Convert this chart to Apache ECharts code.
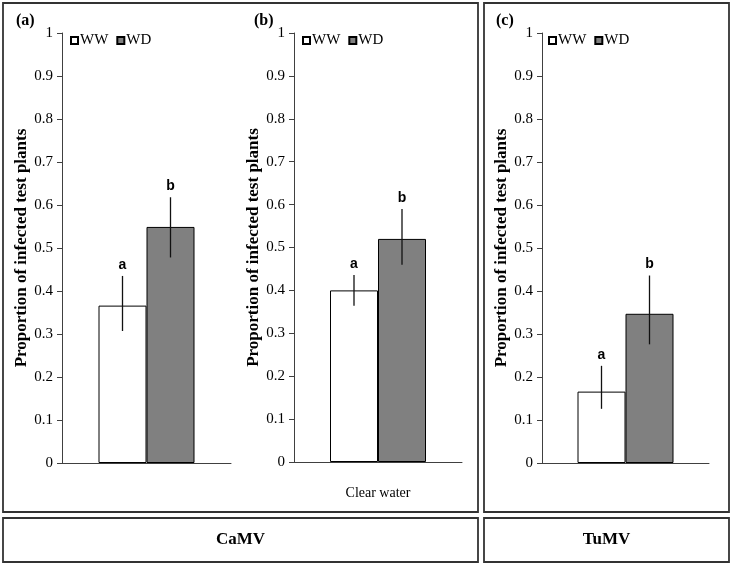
<!DOCTYPE html>
<html>
<head>
<meta charset="utf-8">
<script src="https://cdn.jsdelivr.net/npm/echarts@6/dist/echarts.min.js"></script>
<style>html,body{margin:0;padding:0;background:#fff}#c{width:733px;height:566px}</style>
</head>
<body>
<div id="c"></div>
<script>
const panelLabels = ['(a)', '(b)', '(c)'];
const categories = [[''], ['Clear water'], ['']];
const seriesNames = ['WW', 'WD'];
const wwMean = [0.366, 0.400, 0.166];
const wdMean = [0.549, 0.520, 0.347];
const wwLow = [0.307, 0.364, 0.126];
const wwHigh = [0.435, 0.436, 0.226];
const wdLow = [0.478, 0.460, 0.276];
const wdHigh = [0.618, 0.590, 0.436];
const wwLetters = ['a', 'a', 'a'];
const wdLetters = ['b', 'b', 'b'];
const groupLabels = ['CaMV', 'TuMV'];
const yAxisTitle = 'Proportion of infected test plants';

const serif = '"Liberation Serif", "Times New Roman", serif';
const sans = '"Liberation Sans", Arial, sans-serif';

const grids = [
  {left: 62, right: 502, top: 33, bottom: 103},
  {left: 294, right: 271, top: 33, bottom: 104},
  {left: 542, right: 24, top: 33, bottom: 103}
];
const nameGaps = [32, 27, 28];
const legendPos = [70, 302, 548];
const panelLabelPos = [16, 254, 496];
const BAR_W = 48;

const chart = echarts.init(document.getElementById('c'), null, {renderer: 'canvas'});

function errorSeries(gi, lows, highs, letters, offset) {
  return {
    type: 'custom',
    xAxisIndex: gi, yAxisIndex: gi,
    z: 10,
    silent: true,
    data: [[0, lows[gi], highs[gi]]],
    renderItem: function (params, api) {
      const lo = api.coord([api.value(0), api.value(1)]);
      const hi = api.coord([api.value(0), api.value(2)]);
      const x = lo[0] + offset;
      return {
        type: 'group',
        children: [
          {type: 'line', shape: {x1: x, y1: lo[1], x2: x, y2: hi[1]},
           style: {stroke: '#111', lineWidth: 1.3}},
          {type: 'text', style: {text: letters[gi], x: x, y: hi[1] - 4,
            textAlign: 'center', textVerticalAlign: 'bottom',
            font: 'bold 14px ' + sans, fill: '#000'}}
        ]
      };
    }
  };
}

const option = {
  animation: false,
  backgroundColor: '#fff',
  grid: grids.map(g => Object.assign({containLabel: false}, g)),
  xAxis: grids.map((g, i) => ({
    type: 'category', gridIndex: i, data: categories[i],
    axisLine: {lineStyle: {color: '#404040', width: 1}},
    axisTick: {show: false},
    axisLabel: {color: '#000', fontFamily: serif, fontSize: 14, margin: 24}
  })),
  yAxis: grids.map((g, i) => ({
    type: 'value', gridIndex: i, min: 0, max: 1, interval: 0.1,
    name: yAxisTitle, nameLocation: 'middle', nameGap: nameGaps[i],
    nameTextStyle: {fontFamily: serif, fontWeight: 'bold', fontSize: 17, color: '#000'},
    axisLine: {show: true, lineStyle: {color: '#404040', width: 1}},
    axisTick: {show: true, inside: false, length: 5, lineStyle: {color: '#404040'}},
    splitLine: {show: false},
    axisLabel: {color: '#000', fontFamily: serif, fontSize: 15, margin: 9}
  })),
  legend: grids.map((g, i) => ({
    left: legendPos[i], top: 33, orient: 'horizontal', padding: 0,
    data: seriesNames, icon: 'rect', itemWidth: 7, itemHeight: 7, itemGap: 8,
    selectedMode: false,
    textStyle: {fontFamily: serif, fontSize: 15, color: '#000', padding: [0, 0, 0, -3]}
  })),
  series: [],
  graphic: []
};

for (let i = 0; i < 3; i++) {
  option.series.push({
    name: seriesNames[0], type: 'bar', xAxisIndex: i, yAxisIndex: i,
    data: [wwMean[i]], barWidth: BAR_W, barGap: '0%',
    itemStyle: {color: '#ffffff', borderColor: '#000', borderWidth: 1}
  });
  option.series.push({
    name: seriesNames[1], type: 'bar', xAxisIndex: i, yAxisIndex: i,
    data: [wdMean[i]], barWidth: BAR_W, barGap: '0%',
    itemStyle: {color: '#808080', borderColor: '#000', borderWidth: 1}
  });
  option.series.push(errorSeries(i, wwLow, wwHigh, wwLetters, -BAR_W / 2));
  option.series.push(errorSeries(i, wdLow, wdHigh, wdLetters, BAR_W / 2));
  option.graphic.push({
    type: 'text', left: panelLabelPos[i], top: 13,
    style: {text: panelLabels[i], font: 'bold 16px ' + serif, fill: '#000'}
  });
}

const boxStyle = {stroke: '#333', fill: 'none', lineWidth: 1.8};
option.graphic.push(
  {type: 'rect', shape: {x: 3, y: 3, width: 475, height: 509}, style: boxStyle, silent: true},
  {type: 'rect', shape: {x: 484, y: 3, width: 245, height: 509}, style: boxStyle, silent: true},
  {type: 'rect', shape: {x: 3, y: 518, width: 475, height: 44}, style: boxStyle, silent: true},
  {type: 'rect', shape: {x: 484, y: 518, width: 245, height: 44}, style: boxStyle, silent: true},
  {type: 'text', x: 240.5, y: 540, style: {text: groupLabels[0], font: 'bold 17px ' + serif,
    fill: '#000', textAlign: 'center', textVerticalAlign: 'middle'}},
  {type: 'text', x: 606.5, y: 540, style: {text: groupLabels[1], font: 'bold 17px ' + serif,
    fill: '#000', textAlign: 'center', textVerticalAlign: 'middle'}}
);

chart.setOption(option);
</script>
</body>
</html>
